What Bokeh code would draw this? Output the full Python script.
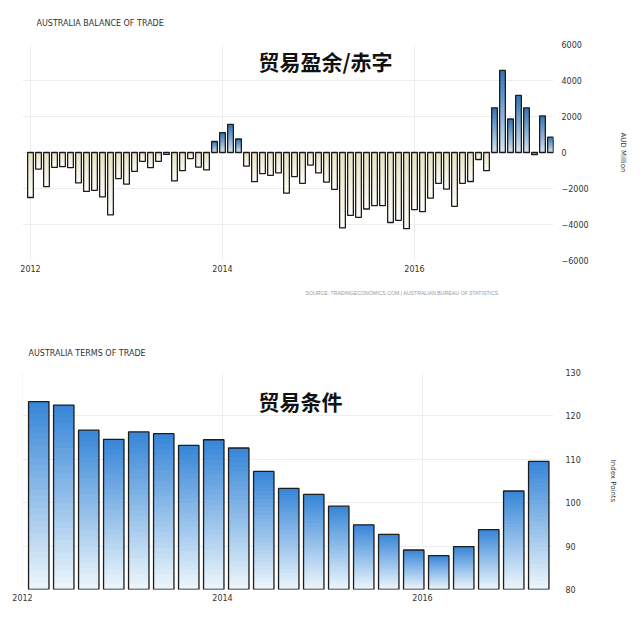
from bokeh.plotting import figure
from bokeh.layouts import column
from bokeh.models import FixedTicker, Label, Range1d, Title
from bokeh.embed import file_html
from bokeh.resources import INLINE

# ---------------- data ----------------
# Australia balance of trade, AUD million, monthly Jan 2012 .. Jun 2017
balance = [-2500, -920, -1900, -830, -790, -845, -1690, -2160, -2100, -2460,
           -3470, -1450, -1760, -1050, -490, -845, -490, -100, -1580, -1010,
           -340, -810, -970, 610, 1100, 1560, 750, -760, -1620, -1170,
           -1270, -1130, -2260, -1340, -1710, -700, -1130, -1650, -2050, -4190,
           -3490, -3600, -3140, -2950, -2950, -3890, -3770, -4230, -3170, -3290,
           -2540, -1710, -2030, -2990, -1710, -1610, -390, -1010, 2480, 4560,
           1860, 3170, 2480, -110, 2030, 850]
balance_month = list(range(len(balance)))          # months since Jan 2012

# Australia terms of trade, index points, quarterly Q1 2012 .. Q1 2017
terms = [123.3, 122.5, 116.7, 114.6, 116.3, 115.9, 113.2, 114.5, 112.6, 107.2,
         103.3, 101.9, 99.2, 94.9, 92.7, 89.1, 87.8, 89.9, 93.8, 102.7, 109.5]
terms_quarter = list(range(len(terms)))             # quarters since Q1 2012

year_ticks = [0, 24, 48]
year_labels = ["2012", "2014", "2016"]
bal_ticks = [-6000, -4000, -2000, 0, 2000, 4000, 6000]
tot_ticks = [80, 90, 100, 110, 120, 130]

FONT = "DejaVu Sans"
CJK = "Noto Sans CJK SC"


def mix(c1, c2, t):
    a = [int(c1[i:i + 2], 16) for i in (1, 3, 5)]
    b = [int(c2[i:i + 2], 16) for i in (1, 3, 5)]
    return "#%02x%02x%02x" % tuple(round(a[k] + (b[k] - a[k]) * t) for k in range(3))


def gradient_bars(p, xs, vals, width, base, top_pos, bot_pos, top_neg, bot_neg, n=24):
    L, R, T, B, C = [], [], [], [], []
    for x, v in zip(xs, vals):
        for j in range(n):
            t = j / n
            L.append(x - width / 2)
            R.append(x + width / 2)
            if v >= base:
                T.append(v - (v - base) * t)
                B.append(base)
                C.append(mix(top_pos, bot_pos, t))
            else:
                T.append(base + (v - base) * t)
                B.append(v)
                C.append(mix(top_neg, bot_neg, t))
    p.quad(left=L, right=R, top=T, bottom=B, fill_color=C, line_color=None)
    p.vbar(x=xs, width=width, top=vals, bottom=base, fill_alpha=0,
           line_color="#1c1c1c", line_width=1.3)


def style(p, yticks, ylabel, title, standoff):
    p.outline_line_color = None
    p.background_fill_color = "white"
    p.border_fill_color = "white"
    p.xgrid.ticker = FixedTicker(ticks=year_ticks)
    p.ygrid.ticker = FixedTicker(ticks=yticks)
    p.xgrid.grid_line_color = "#ededed"
    p.ygrid.grid_line_color = "#ededed"
    p.xaxis.ticker = FixedTicker(ticks=year_ticks)
    p.xaxis.major_label_overrides = dict(zip(year_ticks, year_labels))
    p.yaxis.ticker = FixedTicker(ticks=yticks)
    for ax in (p.xaxis, p.yaxis):
        ax.axis_line_color = None
        ax.major_tick_line_color = None
        ax.minor_tick_line_color = None
        ax.major_tick_out = 0
        ax.major_tick_in = 0
        ax.minor_tick_out = 0
        ax.minor_tick_in = 0
        ax.major_label_text_font = FONT
        ax.major_label_text_font_size = "8px"
        ax.major_label_text_color = "#333333"
    p.xaxis.major_label_standoff = 4
    p.yaxis.major_label_standoff = 8
    p.yaxis.axis_label = ylabel
    p.yaxis.axis_label_text_font = FONT
    p.yaxis.axis_label_text_font_size = "7px"
    p.yaxis.axis_label_text_font_style = "normal"
    p.yaxis.axis_label_text_color = "#333333"
    p.yaxis.axis_label_standoff = 27
    t = Title(text=title, text_font=FONT, text_font_size="8px",
              text_font_style="normal", text_color="#333333", standoff=standoff)
    p.add_layout(t, "above")
    return t


# ---------------- top: balance of trade ----------------
p1 = figure(width=640, height=328, output_backend="svg", toolbar_location=None,
            y_axis_location="right", x_range=Range1d(-1, 65.375),
            y_range=Range1d(-6000, 6000),
            min_border_left=22, min_border_right=87, min_border_top=43,
            min_border_bottom=68)
t1 = style(p1, bal_ticks, "AUD Million", "AUSTRALIA BALANCE OF TRADE", 33)
t1.offset = 14
gradient_bars(p1, balance_month, balance, 0.72, 0,
              "#3474b6", "#dbe9f3", "#e8e3c0", "#fdfdf9")
p1.add_layout(Label(x=303, y=200, x_units="screen", y_units="screen",
                    text="贸易盈余/赤字", text_font=CJK, text_font_style="bold",
                    text_font_size="21px", text_color="#111111",
                    text_align="center", text_baseline="middle"))
p1.add_layout(Title(text="SOURCE: TRADINGECONOMICS.COM | AUSTRALIAN BUREAU OF STATISTICS",
                    text_font="Liberation Sans", text_font_size="5.2px",
                    text_font_style="normal", text_color="#9a9a9a",
                    offset=283, standoff=27), "below")

# ---------------- bottom: terms of trade ----------------
tot_x = [3 * q + 1.95 for q in terms_quarter]
p2 = figure(width=640, height=308, output_backend="svg", toolbar_location=None,
            y_axis_location="right", x_range=Range1d(-0.001, 63.72),
            y_range=Range1d(80, 130),
            min_border_left=22, min_border_right=87, min_border_top=44,
            min_border_bottom=47)
t2 = style(p2, tot_ticks, "Index Points", "AUSTRALIA TERMS OF TRADE", 30)
t2.offset = 6
p2.yaxis.major_label_standoff = 12
p2.yaxis.axis_label_standoff = 25
gradient_bars(p2, tot_x, terms, 2.45, 80,
              "#3987d8", "#f1f9fc", "#3987d8", "#f1f9fc", n=30)
p2.add_layout(Label(x=278, y=189, x_units="screen", y_units="screen",
                    text="贸易条件", text_font=CJK, text_font_style="bold",
                    text_font_size="21px", text_color="#111111",
                    text_align="center", text_baseline="middle"))

layout = column(p1, p2, spacing=0)
open("out.html", "w").write(file_html(layout, INLINE))
